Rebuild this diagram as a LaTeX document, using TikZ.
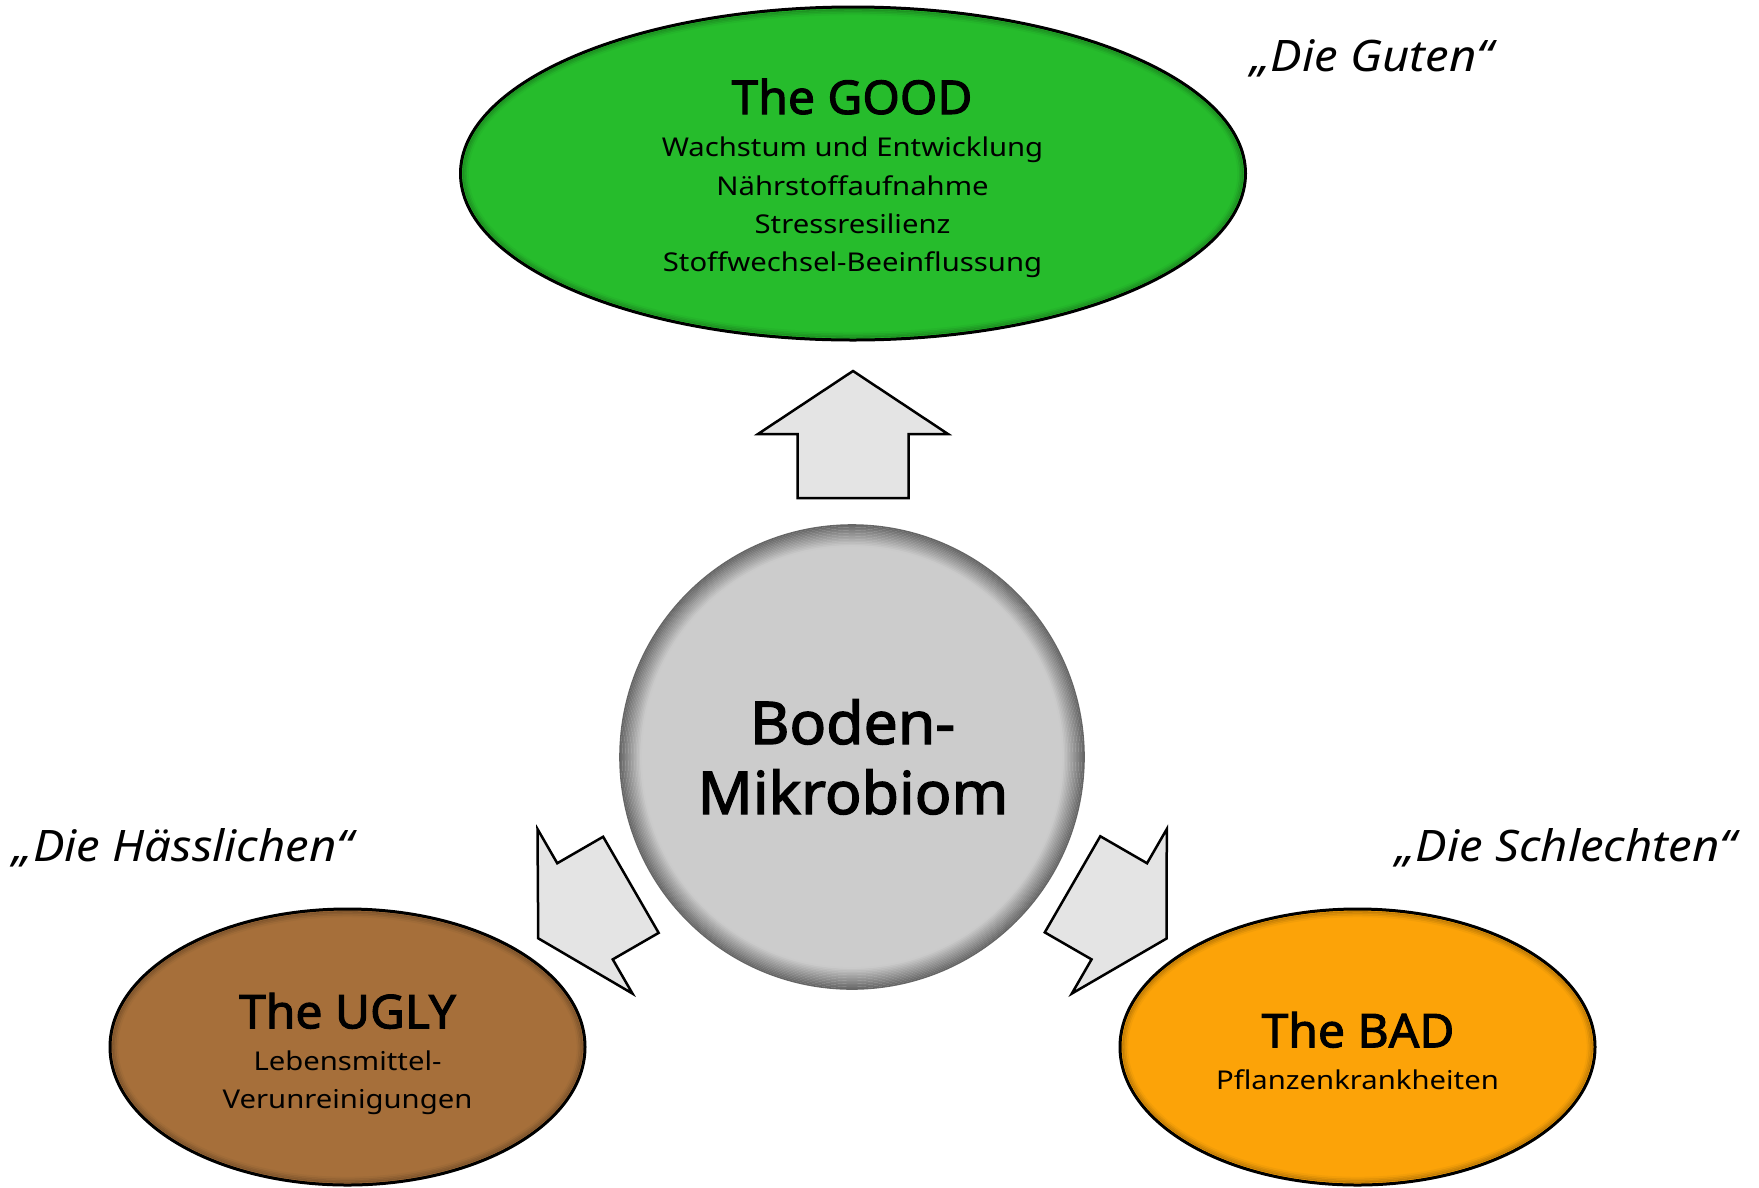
\documentclass[tikz,border=0pt]{standalone}
\usepackage{fontspec}
\setmainfont{Noto Sans}
\newfontfamily\titlefont{Noto Sans}[FakeBold=2.2, FakeStretch=1.03]
\newfontfamily\subfont{Noto Sans}[FakeStretch=1.13]
\newfontfamily\quotefont{Noto Sans}[FakeStretch=1.09]
\usetikzlibrary{shapes.geometric}
\definecolor{goodgreen}{RGB}{38,188,44}
\definecolor{uglybrown}{RGB}{166,111,58}
\definecolor{badorange}{RGB}{252,163,8}
\definecolor{coregray}{RGB}{204,204,204}
\definecolor{arrowgray}{RGB}{228,228,228}
\tikzset{
  oval/.style={ellipse, draw=black, line width=3pt, inner sep=0pt},
  blockarrow/.style={draw=black, line width=2.5pt, fill=arrowgray, line join=miter},
  titletext/.style={anchor=base, inner sep=0pt, font=\titlefont\fontsize{46.6}{50}\selectfont},
  subtext/.style={anchor=base, inner sep=0pt, font=\subfont\fontsize{25.9}{30}\selectfont},
  coretext/.style={anchor=base, inner sep=0pt, font=\titlefont\fontsize{59}{64}\selectfont},
  quotetext/.style={anchor=base, inner sep=0pt, font=\quotefont\itshape\fontsize{43.4}{48}\selectfont},
}
\begin{document}
\begin{tikzpicture}[x=1pt, y=-1pt]
\useasboundingbox (0,0) rectangle (1759,1187);
% ovals
\node[oval, fill=goodgreen, minimum width=785pt, minimum height=333pt] (good) at (853,173.5) {};
\foreach \i [evaluate=\i as \pct using 78+6*\i] in {0,...,3}
  \draw[line width=1.6pt, goodgreen!\pct!black] (good.center) ellipse [x radius=389.6pt-\i*1.5pt, y radius=163.6pt-\i*1.5pt];
\node[oval, fill=uglybrown, minimum width=475pt, minimum height=276pt] (ugly) at (347.5,1047) {};
\foreach \i [evaluate=\i as \pct using 78+6*\i] in {0,...,3}
  \draw[line width=1.6pt, uglybrown!\pct!black] (ugly.center) ellipse [x radius=234.6pt-\i*1.5pt, y radius=135.1pt-\i*1.5pt];
\node[oval, fill=badorange, minimum width=475pt, minimum height=276pt] (bad) at (1357.5,1047) {};
\foreach \i [evaluate=\i as \pct using 78+6*\i] in {0,...,3}
  \draw[line width=1.6pt, badorange!\pct!black] (bad.center) ellipse [x radius=234.6pt-\i*1.5pt, y radius=135.1pt-\i*1.5pt];
% core circle
\node[circle, fill=coregray, minimum size=464pt, inner sep=0pt] (core) at (852,757) {};
\foreach \i [evaluate=\i as \pct using 50+3.5*\i] in {0,...,14}
  \draw[line width=1.6pt, coregray!\pct!black] (core.center) circle [radius=232pt-\i*1.5pt];
% block arrows
\begin{scope}[shift={(853,434)}, rotate=90]
  \draw[blockarrow] (63,0) -- (0,95) -- (0,55.5) -- (-64,55.5) -- (-64,-55.5) -- (0,-55.5) -- (0,-95) -- cycle;
  \coordinate (arrowgood) at (0,0);
\end{scope}
\begin{scope}[shift={(585,911.3)}, rotate=210]
  \draw[blockarrow] (54,0) -- (0,95) -- (0,55.5) -- (-53,55.5) -- (-53,-55.5) -- (0,-55.5) -- (0,-95) -- cycle;
  \coordinate (arrowugly) at (0,0);
\end{scope}
\begin{scope}[shift={(1119.3,911.3)}, rotate=-30]
  \draw[blockarrow] (54.5,0) -- (0,95) -- (0,55.5) -- (-54,55.5) -- (-54,-55.5) -- (0,-55.5) -- (0,-95) -- cycle;
  \coordinate (arrowbad) at (0,0);
\end{scope}
% texts
\node[titletext] (goodtitle) at (852,114) {The GOOD};
\node[subtext] (good1) at (852.5,156.7) {Wachstum und Entwicklung};
\node[subtext] (good2) at (852.5,195) {Nährstoffaufnahme};
\node[subtext] (good3) at (852.5,233.3) {Stressresilienz};
\node[subtext] (good4) at (852.5,271.7) {Stoffwechsel-Beeinflussung};
\node[coretext] (core1) at (852.5,744) {Boden-};
\node[coretext] (core2) at (853,814) {Mikrobiom};
\node[titletext] (uglytitle) at (347.5,1028.3) {The UGLY};
\node[subtext] (ugly1) at (347.5,1070) {Lebensmittel-};
\node[subtext] (ugly2) at (347.5,1108.3) {Verunreinigungen};
\node[titletext] (badtitle) at (1358,1047.3) {The BAD};
\node[subtext] (bad1) at (1357.5,1089.3) {Pflanzenkrankheiten};
\node[quotetext] (qgood) at (1372,71.7) {„Die Guten“};
\node[quotetext] (qugly) at (183.3,861.7) {„Die Hässlichen“};
\node[quotetext] (qbad) at (1566,861.7) {„Die Schlechten“};
\end{tikzpicture}
\end{document}
